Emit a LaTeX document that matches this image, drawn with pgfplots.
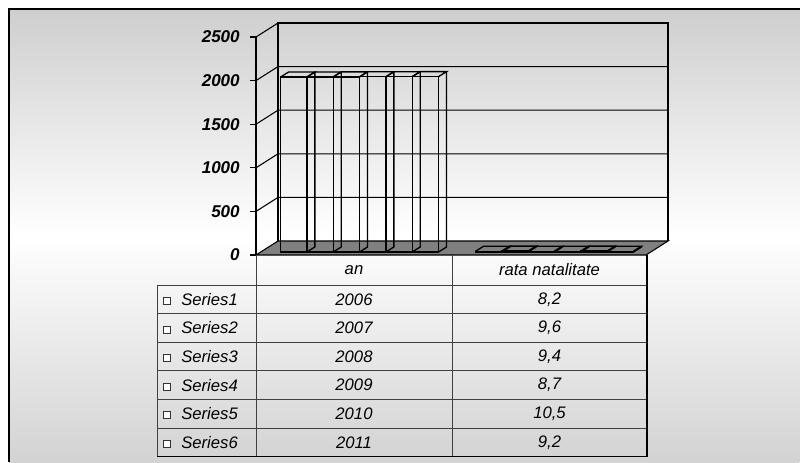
\documentclass[border=0pt]{standalone}
\usepackage{fontspec}
\setmainfont{Liberation Sans}
\usepackage{pgfplots}
\usepackage{pgfplotstable}
\pgfplotsset{compat=1.18}

% categories: 0 = an, 1 = rata natalitate
\pgfplotstableread{
cat s1 s2 s3 s4 s5 s6
0 2006 2007 2008 2009 2010 2011
1 8.2 9.6 9.4 8.7 10.5 9.2
}\chartdata

% top face and side edges of a column, drawn from its top front centre
% bar width 19.75pt, depth 6pt x 3.75pt, 163.5pt per 2500
\pgfdeclareplotmark{colbox}{%
  \pgfmathsetmacro{\colh}{\rawy*0.0654}%
  \pgfpathmoveto{\pgfqpoint{-9.875pt}{0pt}}%
  \pgfpathlineto{\pgfqpoint{-3.875pt}{3.75pt}}%
  \pgfpathlineto{\pgfqpoint{15.875pt}{3.75pt}}%
  \pgfpathlineto{\pgfqpoint{9.875pt}{0pt}}%
  \pgfpathmoveto{\pgfqpoint{15.875pt}{3.75pt}}%
  \pgfpathlineto{\pgfpoint{15.875pt}{3.75pt-\colh pt}}%
  \pgfpathlineto{\pgfpoint{9.875pt}{-\colh pt}}%
  \pgfusepathqstroke}

% #1 column, #2 bar shift, #3 bar shift + depth offset
\newcommand{\cubebar}[3]{%
  \addplot[ybar, bar width=19.75pt, bar shift=#2, draw=black, line width=1pt,
    fill=none, xshift=4.5pt, yshift=2.25pt] table[x=cat, y=#1]{\chartdata};
  \addplot[only marks, mark=colbox, mark options={black, line width=1pt},
    visualization depends on={y \as \rawy},
    xshift=#3, yshift=2.25pt] table[x=cat, y=#1]{\chartdata};
}

\begin{document}
\begin{tikzpicture}
  \begin{scope}[x=0.75pt,y=0.75pt]
    % chart area background
    \begin{scope}
      \clip (9,0) rectangle (800,453);
      \begin{scope}[shift={(404.5,226.5)}, rotate=29.8]
        \shade[top color=black!58, bottom color=black!53, middle color=white]
          (-700,-393) rectangle (700,393);
      \end{scope}
    \end{scope}
    \draw[line width=1.2pt] (9,0) -- (9,453) -- (800,453);
  \end{scope}

  \begin{axis}[
    at={(192pt,155.25pt)}, anchor=south west,
    scale only axis, width=292.5pt, height=163.5pt,
    xmin=-0.5, xmax=1.5, ymin=0, ymax=2500,
    clip=false,
    axis x line=none, axis y line*=left,
    y axis line style={black, line width=0.9pt},
    ytick={0,500,...,2500},
    tick align=outside, major tick length=4.5pt,
    major tick style={black, line width=0.9pt},
    /pgf/number format/1000 sep={},
    /pgf/number format/assume math mode=true,
    yticklabel style={font=\fontsize{12.8}{15}\selectfont\bfseries\itshape,
      inner sep=0pt, xshift=-7.5pt},
  ]
    % floor
    \filldraw[fill=black!50, draw=black, line width=0.8pt]
      (axis cs:-0.5,0) -- ++(16.5pt,10.5pt) -- ++(292.5pt,0pt)
      -- ++(-16.5pt,-10.5pt) -- cycle;
    % walls and grid
    \draw[black, line width=0.8pt] (axis cs:-0.5,0) ++(16.5pt,10.5pt)
      -- ++(0pt,163.5pt) -- ++(292.5pt,0pt) -- ++(0pt,-163.5pt);
    \pgfplotsinvokeforeach{500,1000,1500,2000,2500}{
      \draw[black, line width=0.8pt] (axis cs:-0.5,#1) -- ++(16.5pt,10.5pt)
        -- ++(292.5pt,0pt);
    }
    % columns
    \cubebar{s1}{-49.375pt}{-44.875pt}
    \cubebar{s2}{-29.625pt}{-25.125pt}
    \cubebar{s3}{-9.875pt}{-5.375pt}
    \cubebar{s4}{9.875pt}{14.375pt}
    \cubebar{s5}{29.625pt}{34.125pt}
    \cubebar{s6}{49.375pt}{53.875pt}
  \end{axis}

  \begin{scope}[x=0.75pt,y=0.75pt]
    % data table
    \begin{scope}[black!75, line width=0.75pt]
      \foreach \yy in {177,148.4,119.8,91.2,62.6,34}
        \draw (157,\yy) -- (647,\yy);
      \draw (157,5.4) -- (157,177);
      \draw (256,5.4) -- (256,207);
      \draw (452,5.4) -- (452,207);
    \end{scope}
    \draw[black, line width=0.9pt] (157,5.4) -- (647,5.4) -- (647,207);

    \begin{scope}[font=\fontsize{12.5}{14}\selectfont\itshape]
      \node at (354,192) {an};
      \node at (549.5,192) {rata natalitate};
      \foreach \n/\a/\r [count=\i from 0] in
        {Series1/2006/{8,2},Series2/2007/{9,6},Series3/2008/{9,4},
         Series4/2009/{8,7},Series5/2010/{10,5},Series6/2011/{9,2}} {
        \pgfmathsetmacro{\yc}{162.7-28.6*\i}
        \draw[black!80, fill=white, line width=0.6pt]
          (163,\yc-5) rectangle (170,\yc+2);
        \node[anchor=west, inner sep=0pt] at (181,\yc) {\n};
        \node at (354,\yc) {\a};
        \node at (549.5,\yc) {\r};
      }
    \end{scope}

    \pgfresetboundingbox
    \path (0,0) rectangle (800,462);
  \end{scope}
\end{tikzpicture}
\end{document}
